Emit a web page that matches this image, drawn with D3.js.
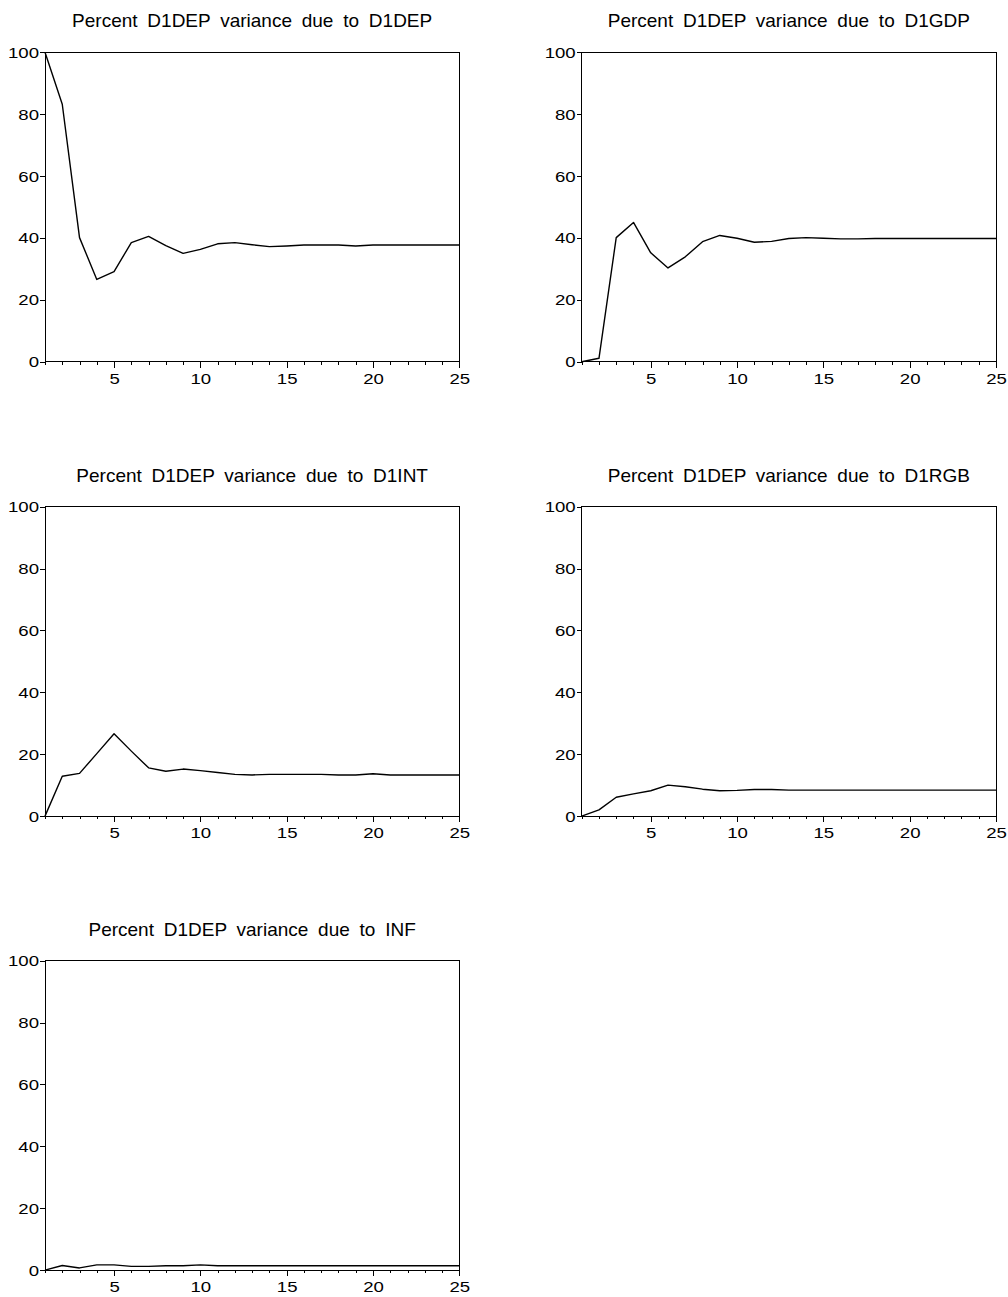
<!DOCTYPE html>
<html>
<head>
<meta charset="utf-8">
<script src="https://cdn.jsdelivr.net/npm/d3@7"></script>
<style>
  html, body { margin: 0; padding: 0; background: #fff; }
  svg { display: block; }
  .title { font-family: "Liberation Sans", Arial, sans-serif; font-size: 19px; word-spacing: 4.5px; fill: #000; }
  .axis text { font-family: "Liberation Sans", Arial, sans-serif; font-size: 15.5px; fill: #000; }
  .axis path, .axis line { stroke: #000; stroke-width: 1; shape-rendering: crispEdges; }
</style>
</head>
<body>
<script>
// Variance decomposition of D1DEP, forecast horizons 1..25
const horizons = d3.range(1, 26);

const titles = [
  "Percent D1DEP variance due to D1DEP",
  "Percent D1DEP variance due to D1GDP",
  "Percent D1DEP variance due to D1INT",
  "Percent D1DEP variance due to D1RGB",
  "Percent D1DEP variance due to INF"
];

const dueToD1DEP = [100, 83.2, 40.1, 26.6, 29.1, 38.5, 40.5, 37.5, 35.0, 36.3, 38.1, 38.5, 37.8,
                    37.2, 37.4, 37.7, 37.7, 37.7, 37.4, 37.7, 37.7, 37.7, 37.7, 37.7, 37.7];
const dueToD1GDP = [0, 1.1, 40.1, 45.0, 35.2, 30.3, 33.9, 38.8, 40.8, 39.9, 38.6, 38.9, 39.8,
                    40.1, 39.9, 39.7, 39.7, 39.8, 39.8, 39.8, 39.8, 39.8, 39.8, 39.8, 39.8];
const dueToD1INT = [0, 12.9, 13.8, 20.2, 26.6, 21.0, 15.6, 14.5, 15.2, 14.7, 14.1, 13.5, 13.3,
                    13.5, 13.5, 13.5, 13.5, 13.3, 13.3, 13.7, 13.3, 13.3, 13.3, 13.3, 13.3];
const dueToD1RGB = [0, 2.0, 6.1, 7.2, 8.2, 10.0, 9.5, 8.7, 8.2, 8.3, 8.6, 8.6, 8.4,
                    8.4, 8.4, 8.4, 8.4, 8.4, 8.4, 8.4, 8.4, 8.4, 8.4, 8.4, 8.4];
const dueToINF   = [0, 1.5, 0.7, 1.7, 1.7, 1.2, 1.2, 1.4, 1.4, 1.7, 1.4, 1.4, 1.4,
                    1.4, 1.4, 1.4, 1.4, 1.4, 1.4, 1.4, 1.4, 1.4, 1.4, 1.4, 1.4];

const seriesList = [dueToD1DEP, dueToD1GDP, dueToD1INT, dueToD1RGB, dueToINF];

const yTicks = [0, 20, 40, 60, 80, 100];
const xMajorTicks = [5, 10, 15, 20, 25];

const W = 1008, H = 1297;
const svg = d3.select("body").append("svg").attr("width", W).attr("height", H);

// Panel grid: two columns, three rows
const colLeft = [45, 581.7];
const plotW = 414.3;
const rowTop = [52.3, 506.7, 960.7];
const plotH = 309.4;

// tick labels are drawn slightly wide
const labelStretch = 1.2;

seriesList.forEach((values, i) => {
  const col = i % 2, row = Math.floor(i / 2);
  const x0 = colLeft[col], y0 = rowTop[row];
  const g = svg.append("g").attr("transform", `translate(${x0},${y0})`);

  const x = d3.scaleLinear().domain([1, 25]).range([0, plotW]);
  const y = d3.scaleLinear().domain([0, 100]).range([plotH, 0]);

  // frame
  g.append("rect")
    .attr("x", 0).attr("y", 0).attr("width", plotW).attr("height", plotH)
    .attr("fill", "none").attr("stroke", "#000").attr("stroke-width", 1)
    .attr("shape-rendering", "crispEdges");

  // left axis
  g.append("g").attr("class", "axis")
    .call(d3.axisLeft(y).tickValues(yTicks).tickSize(5).tickPadding(1).tickSizeOuter(0))
    .call(s => s.select(".domain").remove())
    .call(s => s.selectAll("text")
      .attr("x", -6 / labelStretch)
      .attr("transform", `scale(${labelStretch},1)`));

  // minor ticks at every horizon
  g.append("g").attr("class", "axis")
    .attr("transform", `translate(0,${plotH})`)
    .call(d3.axisBottom(x).tickValues(horizons).tickSize(3).tickFormat("").tickSizeOuter(0))
    .call(s => s.select(".domain").remove());

  // major ticks with labels
  g.append("g").attr("class", "axis")
    .attr("transform", `translate(0,${plotH})`)
    .call(d3.axisBottom(x).tickValues(xMajorTicks).tickSize(6).tickPadding(5).tickFormat(d3.format("d")).tickSizeOuter(0))
    .call(s => s.select(".domain").remove())
    .call(s => s.selectAll("text").attr("transform", `scale(${labelStretch},1)`));

  // title
  g.append("text").attr("class", "title")
    .attr("x", plotW / 2).attr("y", -25)
    .attr("text-anchor", "middle")
    .text(titles[i]);

  // series line
  const line = d3.line().x((d, k) => x(horizons[k])).y(d => y(d));
  g.append("path")
    .datum(values)
    .attr("d", line)
    .attr("fill", "none")
    .attr("stroke", "#000")
    .attr("stroke-width", 1.4)
    .attr("stroke-linejoin", "round");
});
</script>
</body>
</html>
